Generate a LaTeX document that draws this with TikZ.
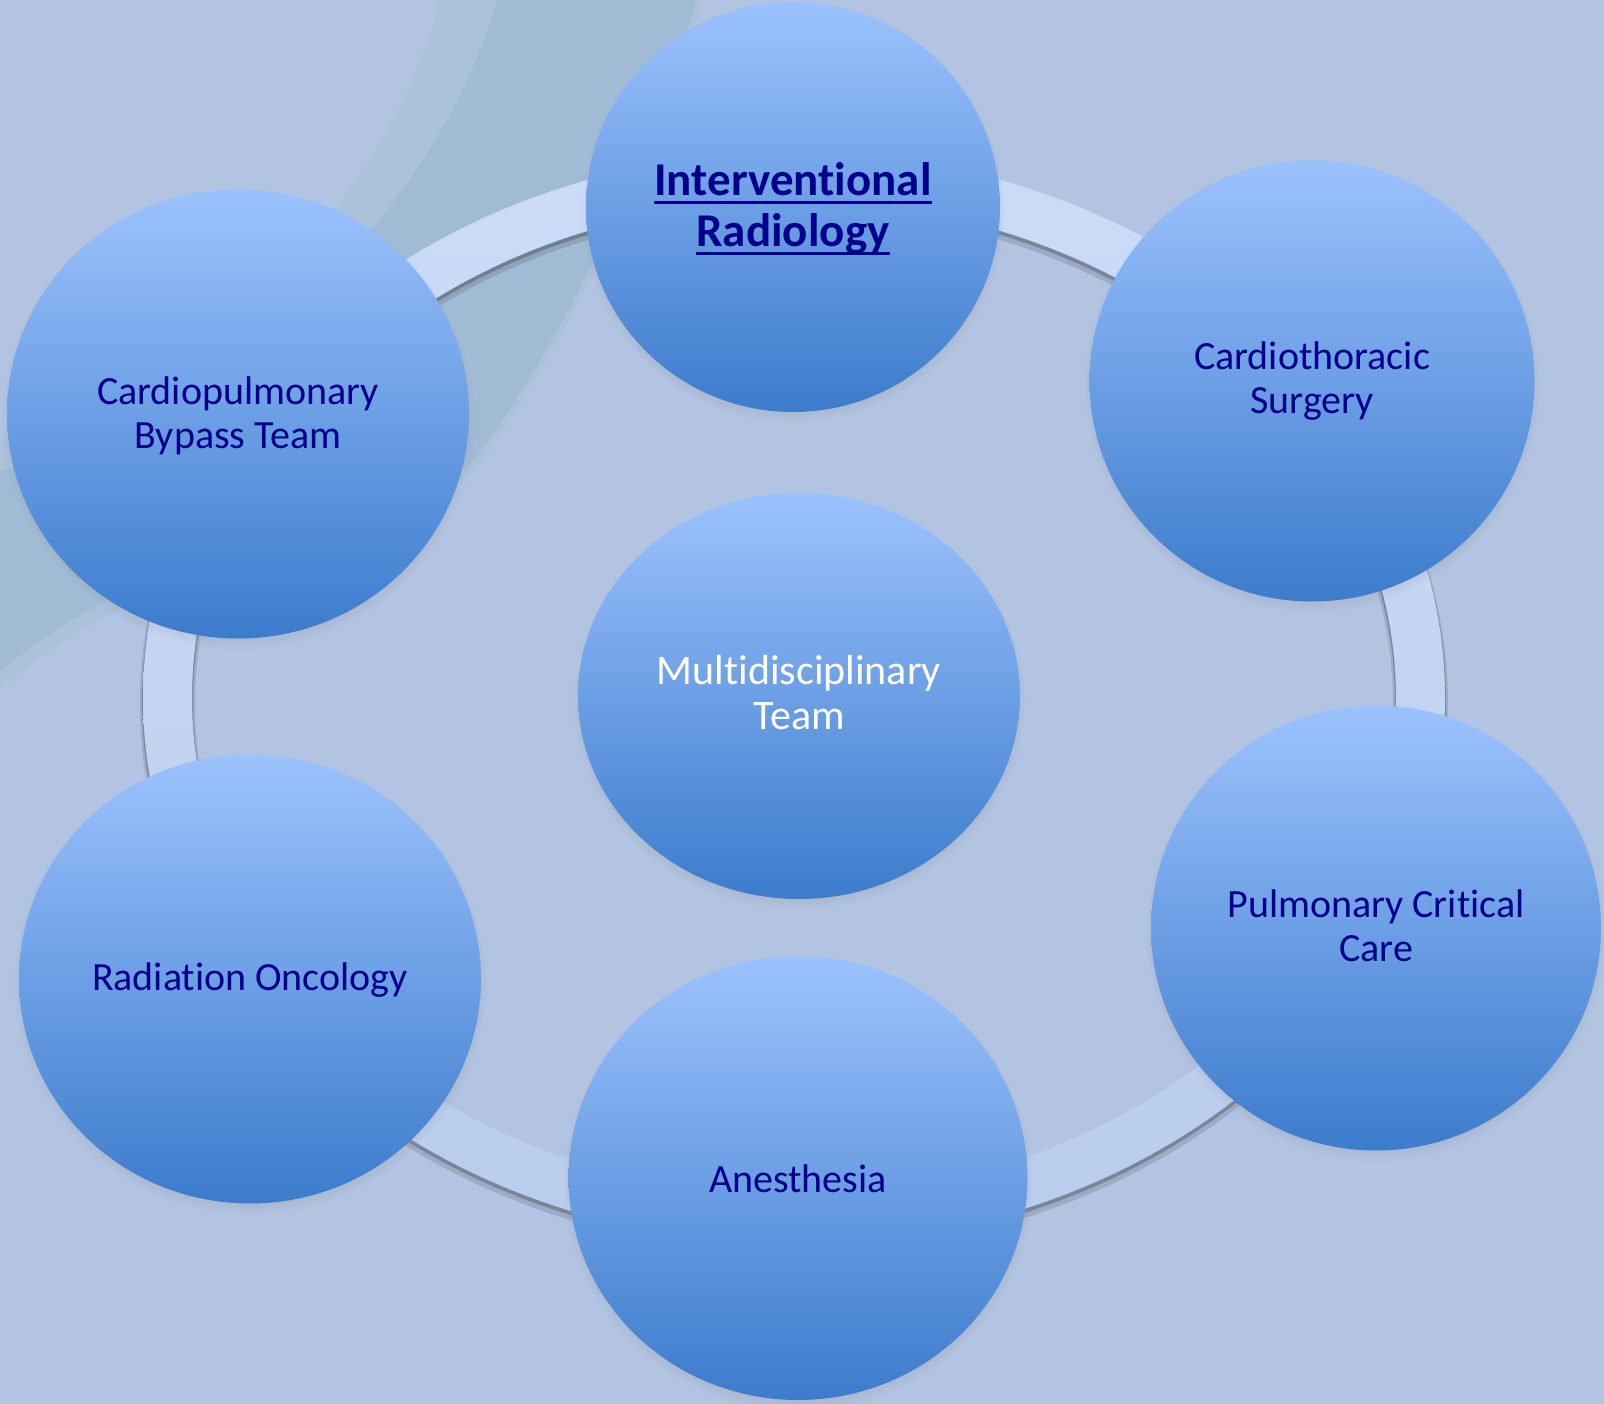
\documentclass[tikz,border=0pt]{standalone}
\usepackage{fontspec}
\setmainfont{Carlito}[Ligatures=CommonOff]
\usetikzlibrary{shapes.geometric,shadows,fadings}

\definecolor{bgcol}{RGB}{178,196,226}
\definecolor{swooshcol}{RGB}{162,187,213}
\definecolor{swooshsoft}{RGB}{172,193,220}
\definecolor{ringtop}{RGB}{203,220,249}
\definecolor{ringbot}{RGB}{186,204,236}
\definecolor{balltop}{RGB}{156,194,253}
\definecolor{ballbot}{RGB}{60,124,204}
\definecolor{navytext}{RGB}{0,0,140}

% underlined word with a Calibri-like underline
\newcommand\ulword[1]{\setbox0\hbox{#1}\rlap{\rule[-9pt]{\wd0}{3pt}}\box0}

\begin{document}
\begin{tikzpicture}[x=1pt,y=-1pt,
  ball/.style={ellipse, inner sep=0pt, draw=none,
    top color=balltop, bottom color=ballbot,
    circular drop shadow={shadow scale=1.025, shadow xshift=0pt,
      shadow yshift=-5pt, opacity=0.45}},
  lbl/.style={align=center, inner sep=0pt, text=navytext,
    font=\fontsize{40}{44}\selectfont}]

\useasboundingbox (0,0) rectangle (1604,1404);

% background
\fill[bgcol] (0,0) rectangle (1604,1404);

% brush swoosh in the upper left: feathered fringe, then the darker stroke
\fill[swooshsoft] (440,0) .. controls (390,190) and (210,390) .. (0,440)
  -- (0,690) .. controls (150,555) and (390,525) .. (475,470)
  .. controls (535,392) and (645,200) .. (702,0) -- cycle;
\fill[swooshcol] (497,0) .. controls (440,200) and (250,400) .. (0,472)
  -- (0,672) .. controls (150,540) and (390,520) .. (470,465)
  .. controls (530,390) and (640,200) .. (696,0) -- cycle;

% ring joining the outer circles, with a soft shadow
\fill[black, opacity=0.12, even odd rule]
  (794,704) ellipse [x radius=654pt, y radius=549pt]
  (794,704) ellipse [x radius=599pt, y radius=494pt];
\fill[black, opacity=0.22, even odd rule]
  (794,701) ellipse [x radius=652pt, y radius=547pt]
  (794,701) ellipse [x radius=601pt, y radius=496pt];
\shade[top color=ringtop, bottom color=ringbot, even odd rule]
  (794,698) ellipse [x radius=651pt, y radius=546pt]
  (794,698) ellipse [x radius=602pt, y radius=497pt];

% circles
\node[ball, minimum width=414pt, minimum height=410pt] (ir)  at (793,207)  {};
\node[ball, minimum width=445pt, minimum height=441pt] (cts) at (1312,381) {};
\node[ball, minimum width=450pt, minimum height=445pt] (pcc) at (1376,928) {};
\node[ball, minimum width=459pt, minimum height=444pt] (ane) at (798,1178) {};
\node[ball, minimum width=462pt, minimum height=449pt] (rad) at (250,979)  {};
\node[ball, minimum width=462pt, minimum height=449pt] (cpb) at (238,414)  {};
\node[ball, minimum width=442pt, minimum height=406pt] (mdt) at (799,696)  {};

% labels
\node[lbl, font=\bfseries\fontsize{47}{51}\selectfont] (irlbl) at ([yshift=-2pt]ir.center)
  {\ulword{Interventional}\\\ulword{Radiology}};
\node[lbl] (ctslbl) at (cts.center) {Cardiothoracic\\Surgery};
\node[lbl] (pcclbl) at ([yshift=2pt]pcc.center) {Pulmonary Critical\\Care};
\node[lbl] (anelbl) at ([yshift=-1pt]ane.center) {Anesthesia};
\node[lbl] (radlbl) at ([yshift=-1pt]rad.center) {Radiation Oncology};
\node[lbl] (cpblbl) at ([yshift=-2pt]cpb.center) {Cardiopulmonary\\Bypass Team};
\node[lbl, text=white, font=\fontsize{42}{45}\selectfont] (mdtlbl) at ([yshift=3pt]mdt.center)
  {Multidisciplinary\\Team};

\end{tikzpicture}
\end{document}
